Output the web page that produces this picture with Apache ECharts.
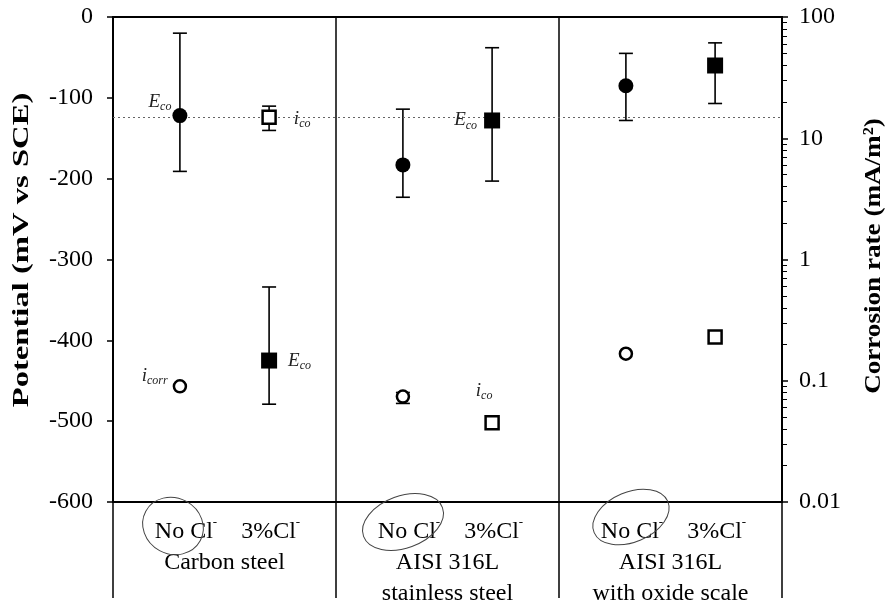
<!DOCTYPE html>
<html>
<head>
<meta charset="utf-8">
<script src="https://cdn.jsdelivr.net/npm/echarts@6/dist/echarts.min.js"></script>
<style>
  html, body { margin: 0; padding: 0; background: #fff; }
  #chart { width: 889px; height: 609px; }
</style>
</head>
<body>
<div id="chart"></div>
<script>
// Groups (materials) along the x axis
const groups = ['Carbon steel', 'AISI 316L\nstainless steel', 'AISI 316L\nwith oxide scale'];
const noClX = [0.3, 1.3, 2.3];
const clX = [0.7, 1.7, 2.7];

// Corrosion potential E_co (mV vs SCE)
const ecoNoCl = [-122, -183, -85];
const ecoNoClLow = [-191, -223, -128];
const ecoNoClHigh = [-20, -114, -45];
const eco3Cl = [-425, -128, -60];
const eco3ClLow = [-479, -203, -107];
const eco3ClHigh = [-334, -38, -32];

// Corrosion rate i_co (mA/m2)
const icoNoCl = [0.09, 0.074, 0.167];
const icoNoClLow = [null, 0.065, null];
const icoNoClHigh = [null, 0.08, null];
const ico3Cl = [14.9, 0.045, 0.23];
const ico3ClLow = [11.6, null, null];
const ico3ClHigh = [18.4, null, null];

// Axis ticks
const potentialTicks = [0, -100, -200, -300, -400, -500, -600];
const rateTicks = [0.01, 0.1, 1, 10, 100];

const FONT = 'Liberation Serif, DejaVu Serif, serif';

function el(id) {
  return document.getElementById(id);
}

function pts(xs, ys) {
  return xs.map((x, i) => [x, ys[i]]);
}

function bars(xs, lo, hi) {
  return xs.map((x, i) => [x, lo[i], hi[i]]).filter(d => d[1] != null);
}

// log minor tick positions 2..9 in each decade
const minorRate = [];
rateTicks.slice(0, -1).forEach(d => {
  for (let k = 2; k <= 9; k++) minorRate.push(+(d * k).toPrecision(3));
});

function errorBar(params, api) {
  const x = api.value(0);
  const top = api.coord([x, api.value(2)]);
  const bot = api.coord([x, api.value(1)]);
  const w = 7;
  const st = { stroke: '#000', lineWidth: 1.6 };
  return {
    type: 'group',
    children: [
      { type: 'line', shape: { x1: top[0], y1: top[1], x2: bot[0], y2: bot[1] }, style: st },
      { type: 'line', shape: { x1: top[0] - w, y1: top[1], x2: top[0] + w, y2: top[1] }, style: st },
      { type: 'line', shape: { x1: bot[0] - w, y1: bot[1], x2: bot[0] + w, y2: bot[1] }, style: st }
    ]
  };
}

const hand = {
  b: { fontFamily: FONT, fontStyle: 'italic', fontSize: 19, color: '#222' },
  s: { fontFamily: FONT, fontStyle: 'italic', fontSize: 12, color: '#222', padding: [10, 0, 0, 0] }
};

function note(text, position, offset) {
  return { show: true, formatter: text, position: position, offset: offset, rich: hand };
}

function ring(cx, cy, rx, ry, rot) {
  return {
    type: 'ellipse', x: cx, y: cy, rotation: rot,
    shape: { cx: 0, cy: 0, rx: rx, ry: ry },
    style: { fill: null, stroke: '#444', lineWidth: 1 },
    z: 10
  };
}

const chart = echarts.init(el('chart'));

chart.setOption({
  animation: false,
  backgroundColor: '#fff',
  grid: { left: 113, right: 107, top: 17, bottom: 107, show: true, borderColor: '#000', borderWidth: 2 },
  xAxis: [
    { type: 'value', min: 0, max: 3, show: false },
    {
      type: 'category',
      data: groups,
      position: 'bottom',
      axisLine: { show: false },
      axisTick: { show: true, interval: 0, length: 96, lineStyle: { color: '#000', width: 1.5 } },
      splitLine: { show: true, interval: 0, lineStyle: { color: '#000', width: 1.5 } },
      axisLabel: {
        interval: 0,
        margin: 14,
        lineHeight: 31,
        fontFamily: FONT,
        fontSize: 24,
        color: '#000',
        formatter: v => ' No Cl{sup|-}    3%Cl{sup|-}\n' + v,
        rich: {
          sup: { fontFamily: FONT, fontSize: 13, color: '#000', verticalAlign: 'top', lineHeight: 31 }
        }
      }
    }
  ],
  yAxis: [
    {
      type: 'value',
      min: -600,
      max: 0,
      interval: 100,
      position: 'left',
      axisLine: { show: true, lineStyle: { color: '#000', width: 2 } },
      axisTick: { show: true, length: 6, lineStyle: { color: '#000', width: 1.5 } },
      splitLine: { show: false },
      axisLabel: { fontFamily: FONT, fontSize: 24, color: '#000', margin: 20 }
    },
    {
      type: 'log',
      logBase: 10,
      min: 0.01,
      max: 100,
      position: 'right',
      axisLine: { show: true, lineStyle: { color: '#000', width: 2 } },
      axisTick: { show: true, length: 6, lineStyle: { color: '#000', width: 1.5 } },
      splitLine: { show: false },
      axisLabel: { fontFamily: FONT, fontSize: 24, color: '#000', margin: 17, formatter: v => String(v) }
    },
    {
      type: 'log',
      logBase: 10,
      min: 0.01,
      max: 100,
      position: 'right',
      axisLine: { show: false },
      axisTick: { show: true, length: 5, customValues: minorRate, lineStyle: { color: '#000', width: 1 } },
      axisLabel: { show: false },
      splitLine: { show: false }
    }
  ],
  series: [
    {
      type: 'custom',
      xAxisIndex: 0,
      yAxisIndex: 0,
      renderItem: errorBar,
      data: bars(noClX, ecoNoClLow, ecoNoClHigh).concat(bars(clX, eco3ClLow, eco3ClHigh)),
      z: 2
    },
    {
      type: 'custom',
      xAxisIndex: 0,
      yAxisIndex: 1,
      renderItem: errorBar,
      data: bars(noClX, icoNoClLow, icoNoClHigh).concat(bars(clX, ico3ClLow, ico3ClHigh)),
      z: 2
    },
    {
      name: 'E_co No Cl',
      type: 'scatter',
      xAxisIndex: 0,
      yAxisIndex: 0,
      symbol: 'circle',
      symbolSize: 15,
      itemStyle: { color: '#000', opacity: 1 },
      data: pts(noClX, ecoNoCl).map((p, i) => i === 0
        ? { value: p, label: note('{b|E}{s|co}', 'left', [4, -14]) }
        : p),
      markLine: {
        silent: true,
        symbol: 'none',
        label: { show: false },
        lineStyle: { color: '#666', type: [2, 3], width: 1 },
        data: [{ yAxis: -124 }]
      },
      z: 5
    },
    {
      name: 'E_co 3% Cl',
      type: 'scatter',
      xAxisIndex: 0,
      yAxisIndex: 0,
      symbol: 'rect',
      symbolSize: 16,
      itemStyle: { color: '#000', opacity: 1 },
      data: pts(clX, eco3Cl).map((p, i) => {
        if (i === 0) return { value: p, label: note('{b|E}{s|co}', 'right', [6, 0]) };
        if (i === 1) return { value: p, label: note('{b|E}{s|co}', 'left', [-2, 0]) };
        return p;
      }),
      z: 5
    },
    {
      name: 'i_co No Cl',
      type: 'scatter',
      xAxisIndex: 0,
      yAxisIndex: 1,
      symbol: 'circle',
      symbolSize: 12,
      itemStyle: { color: '#fff', borderColor: '#000', borderWidth: 2.5, opacity: 1 },
      data: pts(noClX, icoNoCl).map((p, i) => i === 0
        ? { value: p, label: note('{b|i}{s|corr}', 'left', [0, -10]) }
        : p),
      z: 5
    },
    {
      name: 'i_co 3% Cl',
      type: 'scatter',
      xAxisIndex: 0,
      yAxisIndex: 1,
      symbol: 'rect',
      symbolSize: 13,
      itemStyle: { color: '#fff', borderColor: '#000', borderWidth: 2.5, opacity: 1 },
      data: pts(clX, ico3Cl).map((p, i) => {
        if (i === 0) return { value: p, label: note('{b|i}{s|co}', 'right', [12, 2]) };
        if (i === 1) return { value: p, label: note('{b|i}{s|co}', 'top', [-8, -8]) };
        return p;
      }),
      z: 5
    }
  ],
  graphic: [
    // axis titles, stretched along their length like the scanned original
    {
      type: 'text', x: 22, y: 250, rotation: Math.PI / 2, scaleX: 1.36,
      style: { text: 'Potential (mV vs SCE)', font: 'bold 24px ' + FONT, fill: '#000', align: 'center', verticalAlign: 'middle' }
    },
    {
      type: 'text', x: 874, y: 256, rotation: Math.PI / 2, scaleX: 1.13,
      style: { text: 'Corrosion rate (mA/m\u00B2)', font: 'bold 24px ' + FONT, fill: '#000', align: 'center', verticalAlign: 'middle' }
    },
    // hand-drawn rings round the "No Cl" labels
    ring(173, 526, 31, 28, -0.5),
    ring(403, 522, 42, 26, 0.35),
    ring(631, 517, 40, 25, 0.4)
  ]
});
</script>
</body>
</html>
